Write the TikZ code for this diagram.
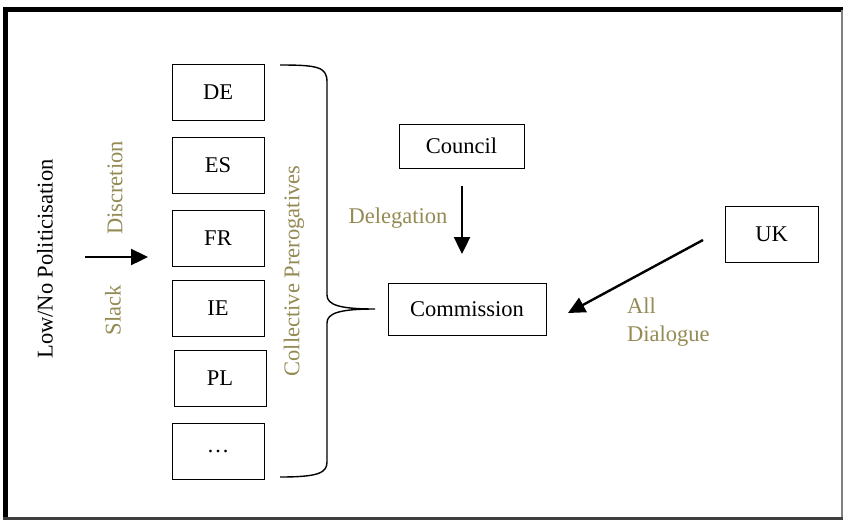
\documentclass[tikz,border=0pt]{standalone}
\usepackage{fontspec}
\setmainfont{Liberation Serif}
\usetikzlibrary{arrows.meta}
\definecolor{olivetxt}{HTML}{948A54}
\tikzset{
  box/.style={draw, line width=0.9pt, minimum width=92pt, minimum height=56pt, inner sep=0pt, font=\fontsize{22.5}{26}\selectfont},
  lbl/.style={text=olivetxt, inner sep=0pt, font=\fontsize{22.5}{26}\selectfont},
  arr/.style={line width=2.4pt, -{Triangle[length=17pt,width=16pt]}}
}
\begin{document}
\begin{tikzpicture}[x=1pt,y=-1pt]
\useasboundingbox (0,0) rectangle (843,520);
% frame
\draw[line width=5pt] (5,520) -- (5,9.5) -- (843,9.5);
\draw[line width=1.2pt, gray] (842,9.5) -- (842,520);
\draw[line width=3pt, black!75] (3,518.5) -- (843,518.5);
% member boxes
\node[box] (de) at (218,92.5) {DE};
\node[box] (es) at (218,165) {ES};
\node[box] (fr) at (218,238) {FR};
\node[box] (ie) at (218,308) {IE};
\node[box] (pl) at (220,378) {PL};
\node[box] (dots) at (218,451) {\ldots};
% brace
\draw[line width=1.4pt] (280,65) .. controls (318,65) and (327,67) .. (327,82)
  -- (327,295) .. controls (327,305) and (340,309) .. (375,309)
  .. controls (340,309) and (327,313) .. (327,323)
  -- (327,462) .. controls (327,473) and (318,477) .. (280,477);
\coordinate (tip) at (375,309);
% vertical labels
\node[rotate=90, inner sep=0pt, font=\fontsize{22.5}{26}\selectfont] (low) at (45,259) {Low/No Politicisation};
\node[lbl, rotate=90] (disc) at (115,188) {Discretion};
\node[lbl, rotate=90] (slack) at (113,310) {Slack};
\node[lbl, rotate=90] (coll) at (294,271) {Collective Prerogatives};
\coordinate (a1s) at (85,257);
\coordinate (a1e) at (148,257);
\draw[arr] (a1s) -- (a1e);
% right part
\node[box, minimum width=125pt, minimum height=44pt] (council) at (461.5,146) {Council};
\node[box, minimum width=158pt, minimum height=52pt] (comm) at (467,309) {Commission};
\node[box, minimum width=93pt, minimum height=56pt] (uk) at (771.5,234) {UK};
\node[lbl] (deleg) at (398,218) {Delegation};
\coordinate (d1s) at (462,186);
\coordinate (d1e) at (462,254);
\draw[arr] (d1s) -- (d1e);
\coordinate (u1s) at (703,240);
\coordinate (u1e) at (568,313);
\draw[arr] (u1s) -- (u1e);
\node[lbl, anchor=west] (all) at (627,306) {All};
\node[lbl, anchor=west] (dial) at (627,336) {Dialogue};
\end{tikzpicture}
\end{document}
